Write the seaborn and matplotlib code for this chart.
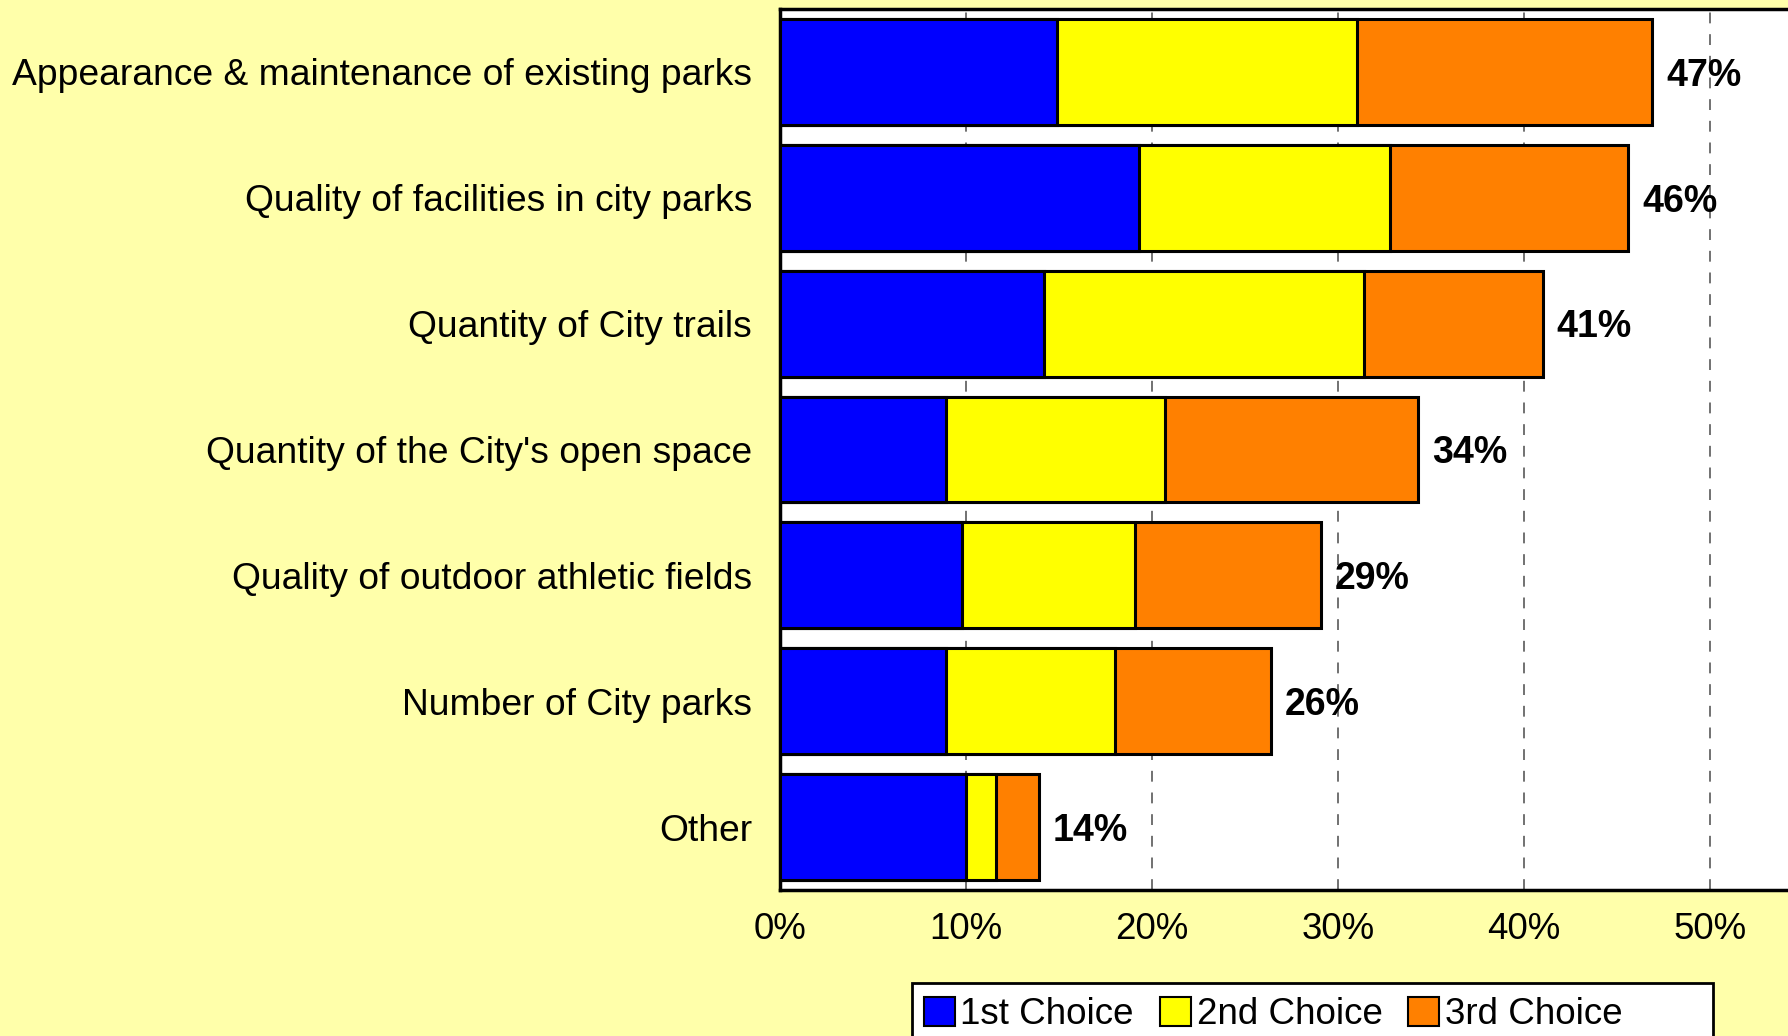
import matplotlib
matplotlib.use("Agg")
import matplotlib.pyplot as plt
import seaborn as sns
import pandas as pd
from matplotlib.patches import Patch, Rectangle

# values (percent)
categories = [
    "Appearance & maintenance of existing parks",
    "Quality of facilities in city parks",
    "Quantity of City trails",
    "Quantity of the City's open space",
    "Quality of outdoor athletic fields",
    "Number of City parks",
    "Other",
]
first_choice = [14.9, 19.3, 14.2, 8.9, 9.8, 8.9, 10.0]
second_choice = [16.1, 13.5, 17.2, 11.8, 9.3, 9.1, 1.6]
third_choice = [15.9, 12.8, 9.6, 13.6, 10.0, 8.4, 2.3]
total_labels = ["47%", "46%", "41%", "34%", "29%", "26%", "14%"]
series_names = ["1st Choice", "2nd Choice", "3rd Choice"]
colors = ["#0000FF", "#FFFF00", "#FF8000"]

sns.set_style("white")
plt.rcParams['font.family'] = ['Liberation Sans', 'DejaVu Sans']
plt.rcParams['text.color'] = 'black'
plt.rcParams['xtick.color'] = 'black'
plt.rcParams['ytick.color'] = 'black'

df = pd.DataFrame({
    "category": categories,
    "first": first_choice,
    "second": second_choice,
    "third": third_choice,
})
df["cum1"] = df["first"]
df["cum2"] = df["first"] + df["second"]
df["cum3"] = df["cum2"] + df["third"]

fig = plt.figure(figsize=(17.88, 10.36), dpi=100, facecolor="#FFFFAA")
ax = fig.add_axes([780 / 1788, 1 - 890 / 1036, 1 - 780 / 1788, (890 - 9) / 1036])
ax.set_facecolor("white")

# stacked layers drawn back to front: total, then 1st+2nd, then 1st
for col, color in zip(["cum3", "cum2", "cum1"], colors[::-1]):
    sns.barplot(data=df, y="category", x=col, orient="h", color=color,
                saturation=1, width=0.84, edgecolor="black", linewidth=2.2,
                ax=ax, zorder=3)

for i, (tot, lab) in enumerate(zip(df["cum3"], total_labels)):
    ax.text(tot + 0.75, i + 0.03, lab, va="center", ha="left", fontsize=27,
            fontweight="bold", color="black", zorder=4)

xmax = (1788 - 780) / 186 * 10
ax.set_xlim(0, xmax)
ax.set_ylim(6.5, -0.5)
ax.set_xticks([0, 10, 20, 30, 40, 50])
ax.set_xticklabels(["0%", "10%", "20%", "30%", "40%", "50%"], fontsize=26.5)
ax.tick_params(axis="y", labelsize=26.8, length=0, pad=20)
ax.tick_params(axis="x", length=0, pad=16)
ax.set_xlabel("")
ax.set_ylabel("")
ax.xaxis.grid(True, linestyle=(0, (6, 6)), color="#666666", linewidth=1.3, zorder=0)
ax.yaxis.grid(False)
ax.set_axisbelow(True)
for side in ["left", "bottom", "top"]:
    ax.spines[side].set_color("black")
    ax.spines[side].set_linewidth(2.5)
ax.spines["right"].set_visible(False)

# legend box is wider than its entries, so draw the frame separately
fig.patches.append(Rectangle((912 / 1788, -0.05), (1713 - 912) / 1788, 0.05 + 1 - 983 / 1036,
                             transform=fig.transFigure, facecolor="white",
                             edgecolor="black", linewidth=2, zorder=1))
handles = [Patch(facecolor=c, edgecolor="black", linewidth=1.5) for c in colors]
leg = fig.legend(handles, series_names, loc="upper left",
                 bbox_to_anchor=(920 / 1788, 1 - 993 / 1036), ncol=3,
                 fontsize=26.5, frameon=False, handlelength=0.85, handleheight=0.85,
                 handletextpad=0.15, columnspacing=0.7, borderpad=0.1,
                 borderaxespad=0)
leg.set_zorder(2)

fig.savefig("out.png", dpi=100, facecolor=fig.get_facecolor())
